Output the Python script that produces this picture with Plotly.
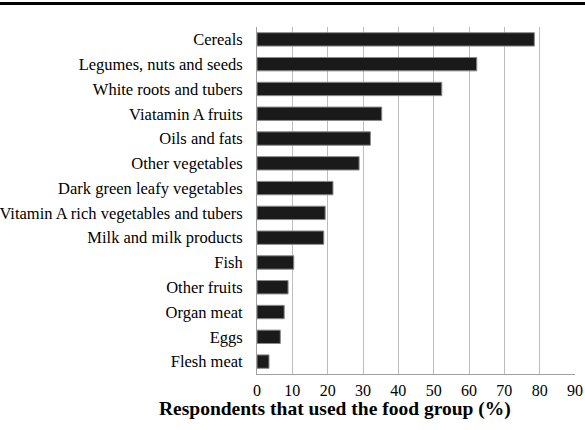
import plotly.graph_objects as go

categories = ["Cereals", "Legumes, nuts and seeds", "White roots and tubers",
              "Viatamin A fruits", "Oils and fats", "Other vegetables",
              "Dark green leafy vegetables", "Vitamin A rich vegetables and tubers",
              "Milk and milk products", "Fish", "Other fruits", "Organ meat",
              "Eggs", "Flesh meat"]
values = [78.5, 62.2, 52.3, 35.3, 32.1, 28.9, 21.5, 19.3, 18.9, 10.4, 8.8, 7.7, 6.6, 3.4]
x_ticks = [0, 10, 20, 30, 40, 50, 60, 70, 80, 90]
x_title = "<b>Respondents that used the food group (%)</b>"

fig = go.Figure()
fig.add_trace(go.Bar(
    x=values, y=categories, orientation="h", width=0.54,
    marker=dict(color="#1a1a1a", line=dict(color="#8a8a8a", width=1)),
))

L, R, T, B = 257, 10, 27, 56
W, H = 585, 430
pw, ph = W - L - R, H - T - B

fig.update_layout(
    width=W, height=H,
    margin=dict(l=L, r=R, t=T, b=B, autoexpand=False),
    paper_bgcolor="white", plot_bgcolor="white",
    showlegend=False,
    font=dict(family="Liberation Serif", size=16, color="black"),
    xaxis=dict(range=[0, 90], tickvals=x_ticks, showgrid=True, gridcolor="#bdbdbd",
               gridwidth=1, showline=True, linecolor="#a0a0a0", linewidth=1,
               zeroline=False, ticks="", tickfont=dict(size=16), automargin=False,
               ticklabelstandoff=2),
    yaxis=dict(categoryorder="array", categoryarray=categories, autorange="reversed",
               showline=True, linecolor="#a0a0a0", linewidth=1, ticks="",
               showgrid=False, tickfont=dict(size=16.5), ticklabelstandoff=10,
               automargin=False),
    annotations=[dict(text=x_title, xref="paper", yref="paper",
                      x=(335 - L) / pw, y=(T + ph - 409) / ph,
                      xanchor="center", yanchor="middle", showarrow=False,
                      font=dict(size=19.5))],
    shapes=[dict(type="line", xref="paper", yref="paper",
                 x0=-L / pw, x1=1 + R / pw,
                 y0=1 + (T - 3.5) / ph, y1=1 + (T - 3.5) / ph,
                 line=dict(color="black", width=3))],
)

fig.write_html("out.html", config={"displayModeBar": False},
               post_script="document.body.style.margin='0';document.body.style.padding='0';")
